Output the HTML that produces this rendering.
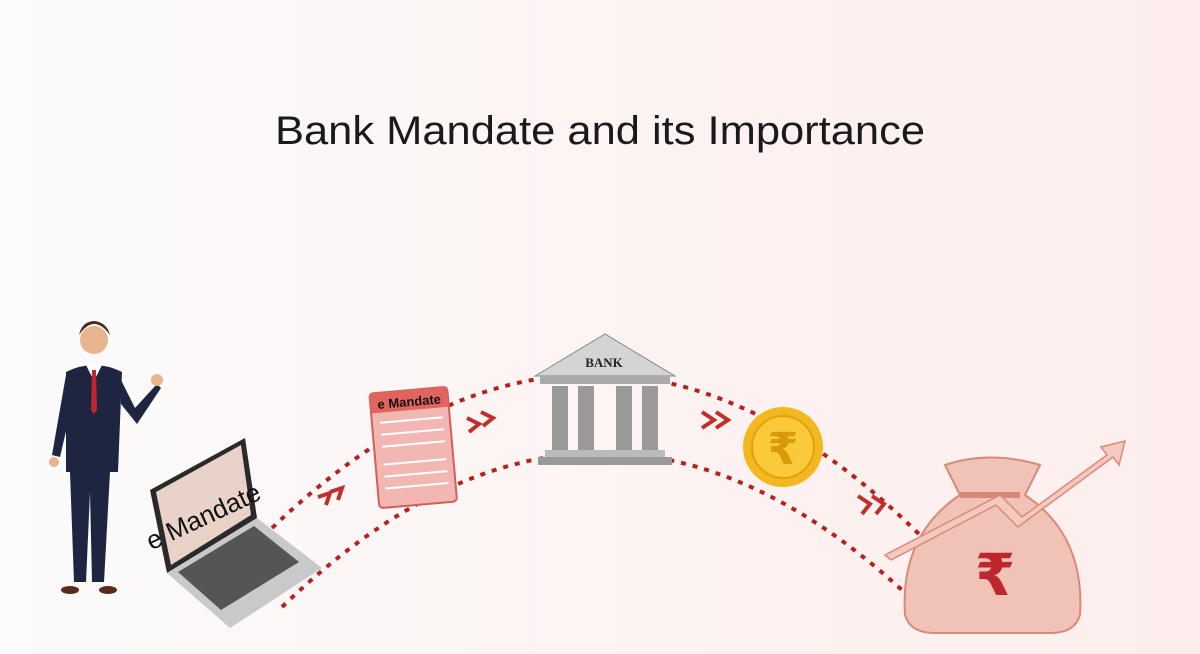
<!DOCTYPE html>
<html><head><meta charset="utf-8"><style>
html,body{margin:0;padding:0;}
body{width:1200px;height:649px;overflow:hidden;background:linear-gradient(90deg,#fbfbfb 0%,#fdf3f2 55%,#fdeeed 100%);font-family:"Liberation Sans",sans-serif;}
</style></head><body>
<svg width="1200" height="649" viewBox="0 0 1200 649" xmlns="http://www.w3.org/2000/svg">
<text x="275" y="144" textLength="650" lengthAdjust="spacingAndGlyphs" font-family="Liberation Sans, sans-serif" font-size="40" fill="#1a1a1a">Bank Mandate and its Importance</text>
<!-- arcs -->
<path d="M272,528 Q600,215 925,540" fill="none" stroke="#b3221e" stroke-width="4" stroke-dasharray="5,7"/>
<path d="M282,607 Q600,300 918,605" fill="none" stroke="#b3221e" stroke-width="4" stroke-dasharray="5,7"/>
<!-- chevrons -->
<g fill="none" stroke="#c0302a" stroke-width="4">
<path d="M318,497 l12,-4 -4,12 M330,492 l12,-4 -4,12"/>
<path d="M467,418 l12,6 -10,8 M481,412 l12,6 -10,8"/>
<path d="M702,412 l12,8 -12,8 M716,412 l12,8 -12,8"/>
<path d="M858,496 l12,8 -8,10 M872,496 l12,8 -8,10"/>
</g>
<!-- man -->
<g>
<circle cx="94" cy="340" r="14" fill="#e8b48e"/>
<path d="M79,335 q15,-22 31,0 q-3,-12 -15,-14 q-13,0 -16,14z" fill="#4a2a1a"/>
<path d="M66,372 q28,-14 56,0 l-4,100 -8,0 -6,110 -12,0 -2,-90 -4,90 -12,0 -4,-110 -4,0z" fill="#1d2540"/>
<path d="M86,365 l8,16 8,-16z" fill="#fff"/><path d="M92,370 l4,0 1,40 -3,4 -3,-4z" fill="#c0262e"/>
<path d="M66,375 l-14,80 8,2 14,-60z" fill="#1d2540"/>
<path d="M120,378 l15,30 22,-24 4,4 -24,36 -16,-20z" fill="#1d2540"/>
<circle cx="157" cy="380" r="6" fill="#e8b48e"/><circle cx="54" cy="462" r="5" fill="#e8b48e"/>
<ellipse cx="70" cy="590" rx="9" ry="4" fill="#5a2a1a"/><ellipse cx="108" cy="590" rx="9" ry="4" fill="#5a2a1a"/>
</g>
<!-- laptop -->
<g>
<path d="M150,490 l95,-52 12,80 -90,55z" fill="#2a2a2a"/>
<path d="M156,492 l85,-47 10,70 -80,50z" fill="#e9d3c8"/>
<text x="205" y="525" transform="rotate(-25 205 520)" text-anchor="middle" font-size="26" font-family="Liberation Sans, sans-serif" fill="#111">e Mandate</text>
<path d="M167,573 l90,-55 65,50 -92,60z" fill="#c9c9c9"/>
<path d="M178,572 l76,-46 45,36 -78,48z" fill="#555"/>
</g>
<!-- e mandate doc -->
<g transform="rotate(-5 413 445)">
<rect x="374" y="390" width="78" height="115" rx="4" fill="#f2b7b2" stroke="#d0605a" stroke-width="2"/>
<rect x="374" y="390" width="78" height="20" fill="#e2645e"/>
<text x="413" y="406" text-anchor="middle" font-size="13" font-weight="bold" fill="#111">e Mandate</text>
<g stroke="#fff" stroke-width="2"><line x1="382" y1="420" x2="445" y2="420"/><line x1="382" y1="432" x2="445" y2="432"/><line x1="382" y1="444" x2="445" y2="444"/><line x1="382" y1="462" x2="445" y2="462"/><line x1="382" y1="474" x2="445" y2="474"/><line x1="382" y1="486" x2="445" y2="486"/></g>
</g>
<!-- bank -->
<g>
<path d="M535,376 l70,-42 70,42z" fill="#d4d4d4" stroke="#888"/>
<text x="604" y="367" text-anchor="middle" font-family="Liberation Serif, serif" font-size="13" font-weight="bold" fill="#222">BANK</text>
<rect x="540" y="376" width="130" height="8" fill="#aaa"/>
<g fill="#9a9a9a"><rect x="552" y="386" width="16" height="64"/><rect x="578" y="386" width="16" height="64"/><rect x="616" y="386" width="16" height="64"/><rect x="642" y="386" width="16" height="64"/></g>
<rect x="545" y="450" width="120" height="7" fill="#bbb"/><rect x="538" y="457" width="134" height="8" fill="#999"/>
</g>
<!-- coin -->
<circle cx="783" cy="447" r="40" fill="#f3b81e"/><circle cx="783" cy="447" r="31" fill="#f9c93a" stroke="#e0a010" stroke-width="2"/>
<text x="783" y="464" text-anchor="middle" font-size="44" font-weight="bold" fill="#d99a08" font-family="DejaVu Sans, sans-serif">₹</text>
<!-- money bag -->
<g>
<path d="M945,465 q45,-15 95,0 l-15,30 q60,40 55,120 q-5,18 -30,18 l-115,0 q-25,0 -30,-18 q-5,-80 55,-120z" fill="#f0c3b6" stroke="#d88a78" stroke-width="2"/>
<path d="M960,495 l60,0" stroke="#d88a78" stroke-width="6"/>
<text x="995" y="595" text-anchor="middle" font-size="58" font-weight="bold" fill="#c0262e" font-family="DejaVu Sans, sans-serif">₹</text>
<path d="M885,555 l115,-60 22,22 85,-62 -6,-8 24,-6 -6,24 -6,-8 -95,70 -22,-22 -105,55z" fill="#f6c9bf" stroke="#d88a78" stroke-width="1.5"/>
</g>
</svg>
</body></html>
